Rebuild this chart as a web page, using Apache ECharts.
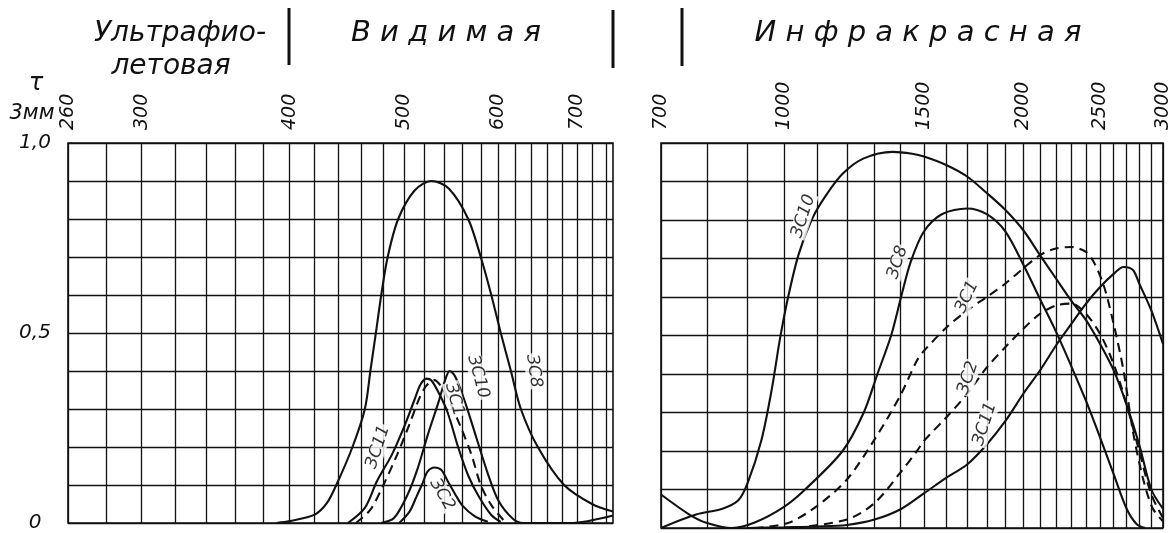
<!DOCTYPE html>
<html>
<head>
<meta charset="utf-8">
<script src="https://cdn.jsdelivr.net/npm/echarts@6/dist/echarts.min.js"></script>
<style>
html,body{margin:0;padding:0;background:#ffffff;}
#chart{width:1175px;height:533px;}
</style>
</head>
<body>
<div id="chart"></div>
<script>
// ---------- axis ticks / labels (wavelength, nm) ----------
const visGridTicks = [260,280,300,320,340,360,380,400,420,440,460,480,500,520,540,560,580,600,620,640,660,680,700,720,740];
const visTickLabels = [260,300,400,500,600,700];
const irGridTicks = [700,800,900,1000,1100,1200,1300,1400,1500,1600,1700,1800,1900,2000,2100,2200,2300,2400,2500,2600,2700,2800,2900,3000];
const irTickLabels = [700,1000,1500,2000,2500,3000];
const tauLabels = [0, 0.5, 1.0];

// ---------- visible / UV region (left panel) ----------
const zs8VisLam  = [390, 400, 420, 430, 438, 452, 463, 468, 473, 478, 484, 494, 510, 527, 545, 566, 580, 592, 603, 615, 627, 648, 682, 720, 750];
const zs8VisTau  = [0, 0.005, 0.022, 0.052, 0.10, 0.20, 0.30, 0.40, 0.50, 0.60, 0.70, 0.80, 0.875, 0.90, 0.88, 0.80, 0.70, 0.60, 0.50, 0.40, 0.30, 0.20, 0.10, 0.05, 0.03];

const zs11VisLam = [448, 463, 474, 488, 500, 510, 516, 522, 527, 535, 544, 555, 566, 577, 592, 603];
const zs11VisTau = [0, 0.04, 0.11, 0.18, 0.255, 0.325, 0.365, 0.38, 0.375, 0.34, 0.29, 0.20, 0.125, 0.073, 0.021, 0.003];

const zs1VisLam  = [455, 468, 480, 493, 505, 515, 522, 530, 537, 544, 559, 570, 580, 592, 606];
const zs1VisTau  = [0, 0.035, 0.10, 0.18, 0.26, 0.33, 0.362, 0.376, 0.36, 0.33, 0.246, 0.177, 0.10, 0.047, 0.008];

const zs10VisLam = [478, 490, 503, 513, 523, 534, 541, 546, 552, 563, 575, 588, 600, 617, 630, 690, 750];
const zs10VisTau = [0, 0.013, 0.074, 0.143, 0.23, 0.316, 0.375, 0.40, 0.385, 0.315, 0.225, 0.13, 0.06, 0.012, 0, 0, 0.02];

const zs2VisLam  = [495, 505, 512, 518, 523, 530, 537, 544, 552, 560, 573, 588];
const zs2VisTau  = [0, 0.03, 0.07, 0.105, 0.135, 0.146, 0.14, 0.11, 0.075, 0.045, 0.018, 0.003];

// ---------- infrared region (right panel) ----------
const zs8IrLam  = [700, 760, 800, 860, 920, 1000, 1063, 1185, 1260, 1311, 1364, 1404, 1443, 1500, 1580, 1700, 1800, 1900, 2000, 2100, 2200, 2300, 2400, 2500, 2600, 2700, 2780, 2850];
const zs8IrTau  = [0.087, 0.035, 0.013, 0, 0.015, 0.055, 0.10, 0.20, 0.30, 0.40, 0.50, 0.60, 0.69, 0.77, 0.815, 0.83, 0.815, 0.77, 0.685, 0.595, 0.51, 0.42, 0.33, 0.235, 0.14, 0.05, 0.01, 0];

const zs10IrLam = [700, 775, 836, 876, 900, 937, 965, 988, 1012, 1043, 1083, 1126, 1185, 1260, 1370, 1450, 1500, 1600, 1700, 1800, 1900, 2000, 2100, 2200, 2300, 2400, 2500, 2600, 2700, 2800, 2900, 3000];
const zs10IrTau = [0, 0.035, 0.05, 0.072, 0.117, 0.23, 0.36, 0.49, 0.60, 0.71, 0.80, 0.86, 0.92, 0.96, 0.977, 0.972, 0.965, 0.943, 0.913, 0.87, 0.826, 0.774, 0.709, 0.648, 0.59, 0.54, 0.478, 0.41, 0.32, 0.217, 0.10, 0.05];

const zs1IrLam  = [918, 1012, 1100, 1200, 1300, 1400, 1470, 1500, 1600, 1700, 1800, 1900, 2000, 2100, 2200, 2300, 2400, 2460, 2530, 2600, 2675, 2750, 2830, 2910, 3000];
const zs1IrTau  = [0, 0.013, 0.057, 0.126, 0.23, 0.343, 0.435, 0.46, 0.52, 0.565, 0.60, 0.635, 0.674, 0.709, 0.726, 0.73, 0.717, 0.687, 0.626, 0.53, 0.41, 0.25, 0.13, 0.052, 0.017];

const zs2IrLam  = [1030, 1200, 1300, 1400, 1470, 1500, 1600, 1700, 1800, 1900, 2000, 2100, 2200, 2300, 2400, 2500, 2600, 2700, 2800, 2900, 3000];
const zs2IrTau  = [0, 0.022, 0.065, 0.143, 0.20, 0.226, 0.287, 0.348, 0.417, 0.47, 0.517, 0.556, 0.578, 0.583, 0.556, 0.504, 0.426, 0.32, 0.20, 0.087, 0.026];

const zs11IrLam = [900, 1000, 1100, 1200, 1300, 1400, 1500, 1600, 1700, 1800, 1900, 2000, 2100, 2200, 2300, 2400, 2500, 2600, 2675, 2750, 2800, 2900, 3000];
const zs11IrTau = [0, 0.002, 0.004, 0.008, 0.022, 0.048, 0.09, 0.13, 0.165, 0.217, 0.278, 0.348, 0.409, 0.474, 0.53, 0.583, 0.626, 0.66, 0.678, 0.67, 0.635, 0.565, 0.478];

// ---------- curve annotations ----------
const visCurveNames = ['ЗС8', 'ЗС10', 'ЗС1', 'ЗС11', 'ЗС2'];
const visNameLam    = [643, 577, 551, 475, 538];
const visNameTau    = [0.40, 0.385, 0.325, 0.20, 0.075];
const visNameRot    = [-82, -75, -75, 72, -60];

const irCurveNames = ['ЗС10', 'ЗС8', 'ЗС1', 'ЗС2', 'ЗС11'];
const irNameLam    = [1058, 1390, 1700, 1705, 1790];
const irNameTau    = [0.81, 0.69, 0.60, 0.39, 0.27];
const irNameRot    = [72, 72, 65, 72, 72];

// ---------- helpers ----------
const lg = v => Math.log10(v);
const pts = (lam, tau) => lam.map((l, i) => [lg(l), tau[i]]);
const INK = '#111111';
const FONT = "'DejaVu Sans', 'Liberation Sans', sans-serif";

function curve(name, lam, tau, gi, dashed) {
  return {
    type: 'line', name: name, xAxisIndex: gi, yAxisIndex: gi,
    data: pts(lam, tau), showSymbol: false, symbol: 'none',
    smooth: 0.3, clip: true, silent: true,
    lineStyle: { color: INK, width: 2.1, type: dashed ? [9, 6] : 'solid' },
    z: 5
  };
}
function nameSeries(names, lam, tau, rot, gi) {
  return {
    type: 'scatter', xAxisIndex: gi, yAxisIndex: gi, symbolSize: 0, silent: true, z: 6,
    data: names.map((n, i) => ({
      value: [lg(lam[i]), tau[i]],
      label: { show: true, formatter: n, rotate: rot[i], position: 'inside',
               color: '#000000', fontFamily: FONT, fontStyle: 'italic', fontSize: 17,
               backgroundColor: '#ffffff', padding: [0, 1] }
    }))
  };
}
function xAxis(gi, minV, maxV, grid, labels) {
  return {
    type: 'value', gridIndex: gi, position: 'top',
    min: lg(minV), max: lg(maxV),
    axisLine: { show: false },
    axisTick: { show: false, customValues: grid.map(lg) },
    splitLine: { show: true, lineStyle: { color: INK, width: 1.3 } },
    axisLabel: {
      customValues: labels.map(lg), rotate: 90, margin: 13,
      formatter: v => String(Math.round(Math.pow(10, v))),
      color: INK, fontFamily: FONT, fontStyle: 'italic', fontSize: 19
    }
  };
}
function yAxis(gi, showLabels) {
  return {
    type: 'value', gridIndex: gi, min: 0, max: 1, interval: 0.1,
    axisLine: { show: false }, axisTick: { show: false },
    splitLine: { show: true, lineStyle: { color: INK, width: 1.3 } },
    axisLabel: {
      show: showLabels, customValues: tauLabels, align: 'center', margin: 33,
      formatter: v => (Math.abs(v) < 1e-9 ? '0' : v.toFixed(1).replace('.', ',')),
      color: INK, fontFamily: FONT, fontStyle: 'italic', fontSize: 20
    }
  };
}

const chart = echarts.init(document.getElementById('chart'), null, { renderer: 'canvas' });
const hdr = (txt, x, y, size) => ({
  type: 'text', x: x, y: y, silent: true,
  style: { text: txt, fill: INK, font: 'italic ' + size + 'px ' + FONT,
           textAlign: 'center', textVerticalAlign: 'middle', align: 'center', verticalAlign: 'middle' }
});
const bar = (x, y1, y2) => ({ type: 'line', silent: true, shape: { x1: x, y1: y1, x2: x, y2: y2 },
  style: { stroke: INK, lineWidth: 3 } });

chart.setOption({
  backgroundColor: '#ffffff',
  animation: false,
  grid: [
    { left: 68, top: 143, width: 545, height: 385, show: true, borderColor: INK, borderWidth: 1.6, backgroundColor: 'transparent' },
    { left: 661, top: 143, width: 502, height: 385, show: true, borderColor: INK, borderWidth: 1.6, backgroundColor: 'transparent' }
  ],
  xAxis: [
    xAxis(0, 260, 750, visGridTicks, visTickLabels),
    xAxis(1, 700, 3000, irGridTicks, irTickLabels)
  ],
  yAxis: [ yAxis(0, true), yAxis(1, false) ],
  series: [
    curve('ЗС8', zs8VisLam, zs8VisTau, 0, false),
    curve('ЗС11', zs11VisLam, zs11VisTau, 0, false),
    curve('ЗС1', zs1VisLam, zs1VisTau, 0, true),
    curve('ЗС10', zs10VisLam, zs10VisTau, 0, false),
    curve('ЗС2', zs2VisLam, zs2VisTau, 0, false),
    curve('ЗС8', zs8IrLam, zs8IrTau, 1, false),
    curve('ЗС10', zs10IrLam, zs10IrTau, 1, false),
    curve('ЗС1', zs1IrLam, zs1IrTau, 1, true),
    curve('ЗС2', zs2IrLam, zs2IrTau, 1, true),
    curve('ЗС11', zs11IrLam, zs11IrTau, 1, false),
    nameSeries(visCurveNames, visNameLam, visNameTau, visNameRot, 0),
    nameSeries(irCurveNames, irNameLam, irNameTau, irNameRot, 1)
  ],
  graphic: [
    hdr('Ультрафио-', 180, 34, 28),
    hdr('летовая', 171, 67, 28),
    hdr('В и д и м а я', 446, 33, 29),
    hdr('И н ф р а к р а с н а я', 918, 33, 29),
    bar(289, 8, 65),
    bar(613, 10, 68),
    bar(682, 8, 66),
    hdr('τ', 36, 84, 24),
    hdr('3мм', 32, 114, 21)
  ]
});
</script>
</body>
</html>
